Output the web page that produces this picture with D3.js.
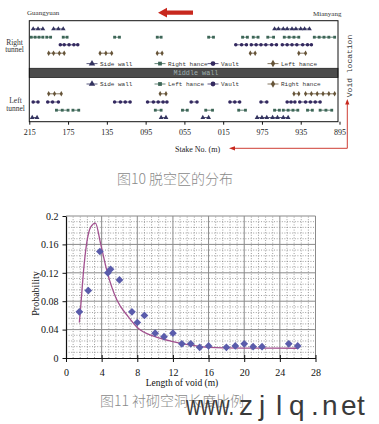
<!DOCTYPE html>
<html><head><meta charset="utf-8">
<script src="https://cdn.jsdelivr.net/npm/d3@7"></script>
<style>body{margin:0;background:#fff;} svg{display:block;}</style>
</head><body>
<svg id="c" width="379" height="424"></svg>
<script>
// ---------- Figure 10 data (stake numbers, K3+215 .. K2+895) ----------
const stakeTicks = [3215,3175,3135,3095,3055,3015,2975,2935,2895];
const rightSideWall = [[3211,3206,3201],[3190,3185,3180],[2962,2958,2953,2949,2944,2940,2935,2931,2926]];
const rightRightHance = [[3213,3209,3205,3201],[3197,3193],[3180,3176],[3127,3122],[3083,3079],[3030,3025],[2995,2990],[2984,2979],[2969,2963],[2952,2947,2942,2937],[2921,2916,2911,2906,2900]];
const rightVault = [[3183,3179,3174,3169,3165],[3002,2996,2991],[2986,2981,2976,2971,2965,2960],[2954,2949,2944,2939,2933,2928,2924]];
const rightLeftHance = [[3195,3190,3184,3179],[3142,3136,3130],[3083,3078],[2987,2982],[2937,2930]];
const leftRightHance = [[3195,3189,3182],[3080,3074],[2942,2937],[2930,2924,2918,2912,2906,2900]];
const leftVault = [[3211,3206],[3196,3191,3185],[3127,3121,3116,3111],[3093,3087,3082,3077,3073],[3048,3042],[3008,3003,2998],[2976,2970],[2949,2945,2941],[2936,2930,2925,2920,2915]];
const leftLeftHance = [[3187,3181,3175],[3170,3164],[3085,3079],[3057,3052],[3033,3026],[2999,2992],[2962,2957],[2953,2948,2943,2938],[2928,2923],[2915,2909,2903]];
const leftSideWall = [[3212,3207],[3079,3074],[3036,3030],[2980,2975,2970,2964,2959,2953,2948]];
const legendRight = ["Side wall","Right hance","Vault","Left hance"];
const legendLeft = ["Side wall","Left hance","Vault","Right hance"];

// ---------- Figure 11 data ----------
const voidLength = [1.5,2.5,3.8,4.7,5.0,6.0,7.4,8.0,8.8,10,11,12,13,14,15,16,18,19,20,21,22,25,26];
const probability = [0.065,0.095,0.15,0.12,0.125,0.11,0.065,0.05,0.06,0.035,0.03,0.035,0.02,0.02,0.015,0.017,0.015,0.017,0.02,0.016,0.016,0.02,0.017];
const fitLength = [1.5,1.7,1.95,2.3,2.8,3.3,3.9,4.65,5.7,7,8,10,12,14,16,20,26];
const fitProb = [0.05,0.08,0.12,0.16,0.185,0.19,0.16,0.12,0.082,0.058,0.043,0.03,0.023,0.018,0.015,0.014,0.0137];
const xTicks = [0,4,8,12,16,20,24,28];
const yTicks = [0,0.04,0.08,0.12,0.16,0.2];

const svg = d3.select("#c");
const mono = "'Liberation Mono', 'DejaVu Sans Mono', monospace";
const serif = "'Liberation Serif', 'Times New Roman', serif";
const cjk = "'Noto Sans CJK SC', sans-serif";

// ================= Figure 10 =================
const X = d3.scaleLinear().domain([3215,2895]).range([29.3,339.5]);
const box = {l:29.3, r:338, t:20.7, b:121.7};
const styles = {
  tri:{type:d3.symbolTriangle,size:10,color:"#33335f"},
  sq:{type:d3.symbolSquare,size:8,color:"#3d6657"},
  cir:{type:d3.symbolCircle,size:10,color:"#33295f"},
  dia:{type:d3.symbolDiamond,size:9,color:"#665438"}
};
const gTop = svg.append("g");

function drawRow(groups, yy, st){
  const g = gTop.append("g");
  groups.forEach(grp=>{
    g.append("path").attr("d", d3.line()(grp.map(s=>[X(s),yy])))
      .attr("stroke",st.color).attr("stroke-width",0.8).attr("fill","none");
    grp.forEach(s=>{
      g.append("path").attr("d", d3.symbol().type(st.type).size(st.size)())
        .attr("transform",`translate(${X(s)},${yy})`).attr("fill",st.color);
    });
  });
}
drawRow(rightSideWall, 28.9, styles.tri);
drawRow(rightRightHance, 37.2, styles.sq);
drawRow(rightVault, 44.8, styles.cir);
drawRow(rightLeftHance, 53.2, styles.dia);
drawRow(leftRightHance, 93.8, styles.dia);
drawRow(leftVault, 102, styles.cir);
drawRow(leftLeftHance, 110.2, styles.sq);
drawRow(leftSideWall, 117.5, styles.tri);

// middle wall band
gTop.append("rect").attr("x",box.l).attr("y",68.3).attr("width",box.r-box.l).attr("height",9.2)
  .attr("fill","#4c4c4c").attr("stroke","#222").attr("stroke-width",0.8);
gTop.append("text").attr("x",196).attr("y",75.3).attr("text-anchor","middle")
  .attr("font-family",mono).attr("font-size",6.8).attr("fill","#9fb0b0").text("Middle wall");

// legends
function legend(names, syms, yy){
  const mx = [92,160,213,273];
  names.forEach((n,i)=>{
    const st = styles[syms[i]];
    gTop.append("line").attr("x1",mx[i]-5.5).attr("x2",mx[i]+5.5).attr("y1",yy).attr("y2",yy)
      .attr("stroke",st.color).attr("stroke-width",0.8);
    gTop.append("path").attr("d", d3.symbol().type(st.type).size(st.size*1.8)())
      .attr("transform",`translate(${mx[i]},${yy})`).attr("fill",st.color);
    gTop.append("text").attr("x",mx[i]+8).attr("y",yy+2.2).attr("font-family",mono)
      .attr("font-size",6).attr("fill","#333").text(n);
  });
}
legend(legendRight, ["tri","sq","cir","dia"], 63.6);
legend(legendLeft, ["tri","sq","cir","dia"], 84);

// frame
gTop.append("rect").attr("x",box.l).attr("y",box.t).attr("width",box.r-box.l).attr("height",box.b-box.t)
  .attr("fill","none").attr("stroke","#111").attr("stroke-width",1);

// axis
const ax = gTop.append("g").attr("transform",`translate(0,${box.b})`)
  .call(d3.axisBottom(X).tickValues(stakeTicks).tickSize(3).tickSizeOuter(0)
    .tickFormat(d=>String(d%1000).padStart(3,"0")));
ax.select(".domain").remove();
ax.selectAll("line").attr("stroke","#111");
ax.selectAll("text").attr("font-family",serif).attr("font-size",8).attr("fill","#222").attr("dy","0.9em");

// side labels
gTop.append("text").attr("x",27).attr("y",15).attr("font-family",serif).attr("font-size",7).attr("fill","#333").text("Guangyuan");
gTop.append("text").attr("x",313).attr("y",16).attr("font-family",serif).attr("font-size",7).attr("fill","#333").text("Mianyang");
[["Right",44.5],["tunnel",51.5]].forEach(d=>gTop.append("text").attr("x",14.5).attr("y",d[1]).attr("text-anchor","middle")
  .attr("font-family",serif).attr("font-size",7.5).attr("fill","#333").text(d[0]));
[["Left",103],["tunnel",111]].forEach(d=>gTop.append("text").attr("x",15.5).attr("y",d[1]).attr("text-anchor","middle")
  .attr("font-family",serif).attr("font-size",7.5).attr("fill","#333").text(d[0]));
gTop.append("text").attr("transform","translate(352,66) rotate(-90)").attr("text-anchor","middle")
  .attr("font-family",mono).attr("font-size",8).attr("fill","#333").text("Void location");
gTop.append("text").attr("x",175).attr("y",152).attr("font-family",serif).attr("font-size",8).attr("fill","#222").text("Stake No. (m)");

// red direction arrow
gTop.append("path").attr("d","M158,12.7 L167,7.8 L167,10.6 L193,10.6 L193,14.8 L167,14.8 L167,17.6 Z")
  .attr("fill","#c8281e");
// red bracket arrows
gTop.append("path").attr("d","M347.3,103 L347.3,148.3 L233,148.3").attr("fill","none").attr("stroke","#c8281e").attr("stroke-width",0.9);
gTop.append("path").attr("d","M347.3,99 L345.2,104.5 L349.4,104.5 Z").attr("fill","#c8281e");
gTop.append("path").attr("d","M229,148.3 L235,146.2 L235,150.4 Z").attr("fill","#c8281e");

svg.append("text").attr("x",117).attr("y",184).attr("font-family",cjk).attr("font-size",14)
  .attr("font-weight",300).attr("fill","#8a8a8a").text("图10 脱空区的分布");

// ================= Figure 11 =================
const x = d3.scaleLinear().domain([0,28]).range([66,315.5]);
const y = d3.scaleLinear().domain([0,0.2]).range([358,216]);
const bot = svg.append("g");

// minor grid
const minorX = d3.range(0, 28.001, 0.8).filter(v => Math.abs(v/4 - Math.round(v/4)) > 1e-6);
const minorY = d3.range(0, 0.2001, 0.008).filter(v => Math.abs(v/0.04 - Math.round(v/0.04)) > 1e-6);
bot.selectAll(".mx").data(minorX).join("line").attr("x1",d=>x(d)).attr("x2",d=>x(d)).attr("y1",y(0)).attr("y2",y(0.2))
  .attr("stroke","#777").attr("stroke-width",0.7).attr("stroke-dasharray","1,1.6");
bot.selectAll(".my").data(minorY).join("line").attr("y1",d=>y(d)).attr("y2",d=>y(d)).attr("x1",x(0)).attr("x2",x(28))
  .attr("stroke","#777").attr("stroke-width",0.7).attr("stroke-dasharray","1,1.6");
// major grid
bot.selectAll(".Mx").data(xTicks.slice(1)).join("line").attr("x1",d=>x(d)).attr("x2",d=>x(d)).attr("y1",y(0)).attr("y2",y(0.2))
  .attr("stroke","#8a8a8a").attr("stroke-width",1);
bot.selectAll(".My").data(yTicks.slice(1)).join("line").attr("y1",d=>y(d)).attr("y2",d=>y(d)).attr("x1",x(0)).attr("x2",x(28))
  .attr("stroke","#8a8a8a").attr("stroke-width",1);

// axes
const xa = bot.append("g").attr("transform",`translate(0,${y(0)})`)
  .call(d3.axisBottom(x).tickValues(xTicks).tickSize(4).tickSizeOuter(0).tickFormat(d3.format("d")));
xa.select(".domain").attr("stroke","#111").attr("stroke-width",1.2);
xa.selectAll("line").attr("stroke","#111").attr("y1",-3);
xa.selectAll("text").attr("font-family",serif).attr("font-size",10).attr("fill","#111").attr("dy","1.1em");
const ya = bot.append("g").attr("transform",`translate(${x(0)},0)`)
  .call(d3.axisLeft(y).tickValues(yTicks).tickSize(3.5).tickSizeOuter(0).tickFormat(d=>d===0?"0":String(+d.toFixed(2))));
ya.select(".domain").attr("stroke","#111").attr("stroke-width",1.2);
ya.selectAll("line").attr("stroke","#111");
ya.selectAll("text").attr("font-family",serif).attr("font-size",10).attr("fill","#111").attr("dx","-0.1em");

// fitted curve
bot.append("path").datum(fitLength.map((v,i)=>[v,fitProb[i]]))
  .attr("d", d3.line().x(d=>x(d[0])).y(d=>y(d[1])).curve(d3.curveMonotoneX))
  .attr("fill","none").attr("stroke","#a2508f").attr("stroke-width",1.3);

// points (square rotated 45° = Excel-style diamond)
bot.selectAll(".pt").data(voidLength.map((v,i)=>[v,probability[i]])).join("path")
  .attr("d", d3.symbol().type(d3.symbolSquare).size(30)())
  .attr("transform",d=>`translate(${x(d[0])},${y(d[1])}) rotate(45)`)
  .attr("fill","#5a5cab");

// axis titles
bot.append("text").attr("x",182).attr("y",386).attr("text-anchor","middle").attr("font-family",serif)
  .attr("font-size",9.5).attr("fill","#111").text("Length of void (m)");
bot.append("text").attr("transform","translate(38.5,293.5) rotate(-90)").attr("text-anchor","middle")
  .attr("font-family",serif).attr("font-size",10).attr("fill","#111").text("Probability");

svg.append("text").attr("x",100).attr("y",406).attr("font-family",cjk).attr("font-size",14)
  .attr("font-weight",300).attr("fill","#8a8a8a").text("图11 衬砌空洞长度比例");

// watermark
const wm = svg.append("g").attr("font-family","'Liberation Sans', Arial, sans-serif").attr("font-size",28).attr("fill","#3a3a3a");
wm.append("text").attr("x",186).attr("y",415).attr("textLength",48).attr("lengthAdjust","spacingAndGlyphs").text("www.");
[["z",239],["j",259],["l",276],["q",289],[".",311],["n",322],["e",341],["t",357]].forEach(c=>
  wm.append("text").attr("x",c[1]).attr("y",415).text(c[0]));
</script>
</body></html>
